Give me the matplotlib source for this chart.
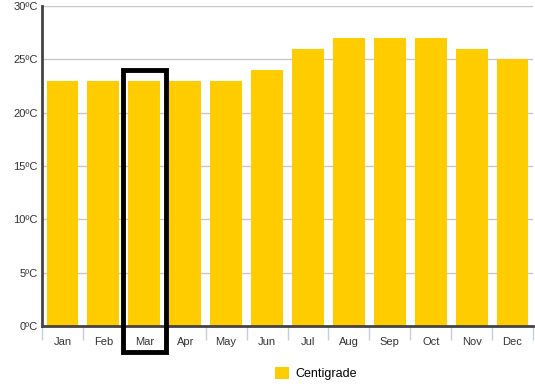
import matplotlib
matplotlib.use("Agg")
import matplotlib.pyplot as plt
from matplotlib.patches import Rectangle
import numpy as np

months = ["Jan", "Feb", "Mar", "Apr", "May", "Jun", "Jul", "Aug", "Sep", "Oct", "Nov", "Dec"]
centigrade = [23, 23, 23, 23, 23, 24, 26, 27, 27, 27, 26, 25]
yticks = [0, 5, 10, 15, 20, 25, 30]
ytick_labels = ["0ºC", "5ºC", "10ºC", "15ºC", "20ºC", "25ºC", "30ºC"]
highlight = "Mar"

plt.rcParams['font.family'] = ['Liberation Sans', 'DejaVu Sans']

fig = plt.figure(figsize=(5.35, 3.91), dpi=100)
ax = fig.add_axes([42/535, 65/391, 491/535, 320/391])

x = np.arange(len(months))
ax.bar(x, centigrade, width=0.78, color="#FFCC00", zorder=3, label="Centigrade")

ax.set_xlim(-0.5, len(months) - 0.5)
ax.set_ylim(0, 30)
ax.set_yticks(yticks)
ax.set_yticklabels(ytick_labels, fontsize=8, color="#333333")
ax.yaxis.grid(True, color="#c8c8c8", linewidth=1, zorder=0)
ax.tick_params(axis="y", length=0, pad=3)

ax.set_xticks(x)
ax.set_xticklabels(months, fontsize=8, color="#333333")
ax.tick_params(axis="x", length=0, pad=8)
ax.set_xticks(np.arange(len(months) + 1) - 0.5, minor=True)
ax.tick_params(axis="x", which="minor", length=10, color="#c0d0e0", width=1)

for s in ["top", "right"]:
    ax.spines[s].set_visible(False)
ax.spines["left"].set_color("#444444")
ax.spines["left"].set_linewidth(2)
ax.spines["bottom"].set_color("#444444")
ax.spines["bottom"].set_linewidth(2)
ax.spines["left"].set_zorder(4)
ax.spines["bottom"].set_zorder(4)

i = months.index(highlight)
rect = Rectangle((i - 0.52, -2.4), 1.04, 26.4, fill=False, edgecolor="black",
                 linewidth=3.5, clip_on=False, zorder=6)
ax.add_patch(rect)

leg = fig.legend(loc="lower center", bbox_to_anchor=(0.59, 0.0), frameon=False,
                 fontsize=9, handlelength=1.1, handleheight=1.1, handletextpad=0.5)

fig.savefig("out.png", dpi=100)
